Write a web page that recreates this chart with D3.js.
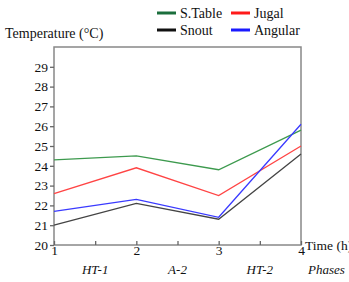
<!DOCTYPE html>
<html>
<head>
<meta charset="utf-8">
<script src="https://cdn.jsdelivr.net/npm/d3@7"></script>
<style>
  body { margin: 0; background: #fff; }
  text { font-family: "Liberation Serif", "Times New Roman", serif; fill: #111; }
</style>
</head>
<body>
<svg id="chart" width="349" height="282"></svg>
<script>
const times = [1, 2, 3, 4]
const phases = ['HT-1', 'A-2', 'HT-2']
const yTicks = [20, 21, 22, 23, 24, 25, 26, 27, 28, 29]
const seriesNames = ['S.Table', 'Jugal', 'Snout', 'Angular']
const sTable = [24.3, 24.5, 23.8, 25.8]
const jugal = [22.6, 23.9, 22.5, 25.0]
const snout = [21.0, 22.1, 21.3, 24.6]
const angular = [21.7, 22.3, 21.4, 26.1]

const lineColors = { 'S.Table': '#3d9a4e', 'Jugal': '#ff4444', 'Snout': '#444', 'Angular': '#3a3aff' }
const legendColors = { 'S.Table': '#1b6e3c', 'Jugal': '#ff1a1a', 'Snout': '#111', 'Angular': '#1a1aff' }
const seriesValues = { 'S.Table': sTable, 'Jugal': jugal, 'Snout': snout, 'Angular': angular }

const svg = d3.select('#chart')
const plotLeft = 54, plotRight = 301, plotTop = 47, plotBottom = 245

const x = d3.scaleLinear().domain([1, 4]).range([plotLeft, plotRight])
const y = d3.scaleLinear().domain([20, 30]).range([plotBottom, plotTop])

// frame
svg.append('rect')
  .attr('x', plotLeft).attr('y', plotTop)
  .attr('width', plotRight - plotLeft).attr('height', plotBottom - plotTop)
  .attr('fill', 'none').attr('stroke', '#888').attr('stroke-width', 1.5)

// y axis
const yAxis = svg.append('g')
  .attr('transform', `translate(${plotLeft},0)`)
  .call(d3.axisLeft(y).tickValues(yTicks).tickSize(4).tickPadding(2))
yAxis.select('.domain').remove()
yAxis.selectAll('line').attr('stroke', '#666').attr('stroke-width', 1.3)
yAxis.selectAll('text').style('font-size', '13.5px').style('font-family', '"Liberation Serif", serif').attr('fill', '#111')

// x axis
const xAxis = svg.append('g')
  .attr('transform', `translate(0,${plotBottom})`)
  .call(d3.axisBottom(x).tickValues([1, 1.5, 2, 2.5, 3, 3.5, 4]).tickSize(4)
    .tickFormat(d => Number.isInteger(d) ? d : ''))
xAxis.select('.domain').remove()
xAxis.selectAll('line').attr('stroke', '#666').attr('stroke-width', 1.3).attr('y1', -4).attr('y2', 0)
xAxis.selectAll('text').style('font-size', '13.5px').style('font-family', '"Liberation Serif", serif')
  .attr('fill', '#111').attr('dy', '0.6em').attr('y', 2)

// phase labels
svg.selectAll('.phase').data(phases).enter().append('text')
  .attr('class', 'phase')
  .attr('x', (d, i) => x(i + 1.5))
  .attr('y', 274)
  .attr('text-anchor', 'middle')
  .style('font-size', '13px').style('font-style', 'italic')
  .text(d => d)
svg.append('text').attr('x', 308).attr('y', 274)
  .style('font-size', '13px').style('font-style', 'italic').text('Phases')
svg.append('text').attr('x', 305).attr('y', 250)
  .style('font-size', '13.5px').text('Time (h)')

// y title
svg.append('text').attr('x', 5).attr('y', 38)
  .style('font-size', '14px').text('Temperature (°C)')

// lines
const line = d3.line().x((d, i) => x(times[i])).y(d => y(d))
seriesNames.forEach(name => {
  svg.append('path')
    .attr('d', line(seriesValues[name]))
    .attr('fill', 'none')
    .attr('stroke', lineColors[name])
    .attr('stroke-width', 1.3)
})

// legend
const legendPos = [[157, 13], [231, 13], [157, 30], [231, 30]]
seriesNames.forEach((name, i) => {
  const [lx, ly] = legendPos[i]
  svg.append('line').attr('x1', lx).attr('x2', lx + 19).attr('y1', ly).attr('y2', ly)
    .attr('stroke', legendColors[name]).attr('stroke-width', 3)
  svg.append('text').attr('x', lx + 23).attr('y', ly + 5)
    .style('font-size', '14px').text(name)
})
</script>
</body>
</html>
